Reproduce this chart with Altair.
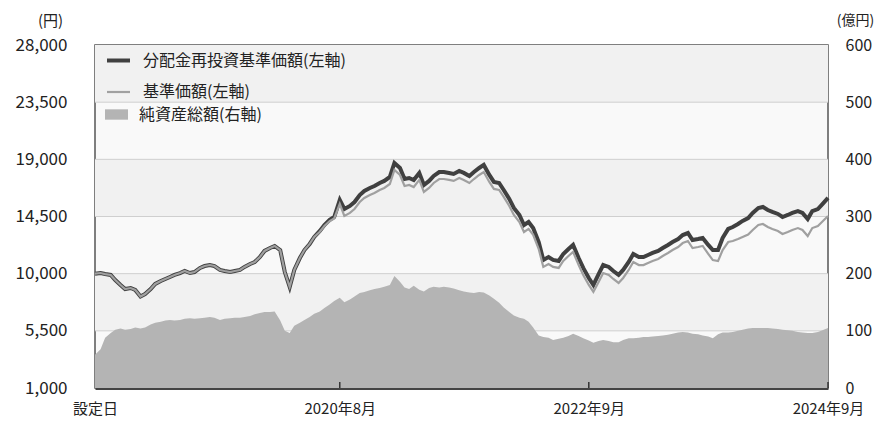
import altair as alt
import pandas as pd

# ---- data ----
dates = pd.date_range("2018-07-15", "2024-09-01", freq="SMS")

reinvested = [
    10000, 10050, 9970, 9900, 9500, 9110, 8790, 8870, 8720, 8200,
    8400, 8790, 9190, 9420, 9580, 9740, 9900, 10050, 10210, 10050,
    10130, 10450, 10600, 10680, 10600, 10290, 10210, 10130, 10210, 10290,
    10530, 10760, 10920, 11310, 11790, 12020, 12180, 11860, 10130, 8950,
    10290, 11230, 11860, 12340, 12890, 13360, 13830, 14230, 14460, 15800,
    15090, 15330, 15640, 16190, 16510, 16740, 16900, 17140, 17300, 17610,
    18710, 18320, 17450, 17530, 17370, 17930, 16980, 17300, 17690, 18000,
    18000, 17930, 17850, 18080, 17930, 17690, 18000, 18320, 18560, 17770,
    17220, 17140, 16590, 15880, 15170, 14620, 13830, 14070, 13600, 12490,
    11080, 11310, 11080, 11000, 11550, 11940, 12260, 11230, 10450, 9660,
    9110, 9970, 10680, 10530, 10210, 9900, 10290, 10920, 11550, 11310,
    11310, 11470, 11630, 11790, 12020, 12260, 12490, 12730, 13040, 13200,
    12650, 12730, 12810, 12260, 11860, 11860, 12810, 13520, 13670, 13910,
    14150, 14380, 14780, 15170, 15250, 15010, 14860, 14700, 14460, 14620,
    14780, 14930, 14780, 14300, 14930, 15090, 15480, 15960,
]

nav = [
    10000, 10050, 9970, 9900, 9500, 9110, 8790, 8870, 8720, 8200,
    8400, 8790, 9190, 9420, 9580, 9740, 9900, 10050, 10210, 10050,
    10130, 10450, 10600, 10680, 10600, 10290, 10210, 10130, 10210, 10290,
    10530, 10760, 10920, 11310, 11790, 12020, 12180, 11860, 10130, 8950,
    10290, 11230, 11860, 12340, 12890, 13300, 13750, 14130, 14350, 15500,
    14540, 14780, 15090, 15640, 15960, 16190, 16350, 16590, 16750, 17060,
    18160, 17770, 16900, 16980, 16820, 17380, 16430, 16750, 17140, 17450,
    17450, 17380, 17300, 17530, 17380, 17140, 17450, 17770, 18000, 17220,
    16670, 16590, 16040, 15330, 14620, 14070, 13280, 13520, 13050, 11940,
    10530, 10760, 10530, 10450, 11000, 11390, 11710, 10680, 9900, 9110,
    8560, 9340, 10050, 9900, 9580, 9270, 9660, 10290, 10920, 10680,
    10680, 10840, 11000, 11160, 11390, 11630, 11860, 12100, 12410, 12570,
    12020, 12100, 12180, 11560, 11070, 10990, 11860, 12490, 12570, 12730,
    12890, 13080, 13440, 13830, 13910, 13670, 13520, 13360, 13120, 13280,
    13440, 13590, 13440, 12960, 13590, 13750, 14100, 14540,
]

net_assets = [
    58, 68, 88, 96, 102, 104, 102, 103, 106, 104,
    106, 111, 114, 116, 118, 119, 118, 119, 121, 122,
    121, 122, 123, 124, 123, 119, 121, 122, 123, 123,
    124, 126, 129, 131, 133, 133, 134, 118, 100, 96,
    109, 114, 119, 124, 130, 134, 140, 146, 152, 158,
    150, 155, 160, 166, 168, 171, 173, 175, 177, 180,
    196, 186, 176, 173, 179, 172, 169, 175, 177, 176,
    177, 176, 174, 171, 169, 167, 166, 168, 167, 162,
    156, 149, 141, 133, 127, 123, 121, 116, 106, 92,
    89, 88, 84, 86, 88, 91, 95, 91, 87, 83,
    79, 82, 84, 82, 80, 80, 84, 87, 87, 88,
    89, 89, 90, 91, 92, 93, 95, 97, 98, 97,
    95, 94, 92, 90, 87, 94, 97, 97, 98, 100,
    102, 104, 105, 105, 105, 105, 104, 103, 102, 101,
    100, 98, 97, 96, 96, 98, 101, 105,
]

n = min(len(dates), len(reinvested), len(nav), len(net_assets))
date_str = list(dates.strftime("%Y-%m-%d"))[:n]

S1 = "分配金再投資基準価額(左軸)"
S2 = "基準価額(左軸)"
S3 = "純資産総額(右軸)"

left_ticks = [1000, 5500, 10000, 14500, 19000, 23500, 28000]
right_ticks = [0, 100, 200, 300, 400, 500, 600]
band_lo = [5500, 14500, 23500]
band_hi = [10000, 19000, 28000]
grid_vals = [5500, 10000, 14500, 19000, 23500]
tick_dates = ["2020-08-01", "2022-09-01", "2024-09-01"]

line_df = pd.DataFrame({
    "date": date_str * 2,
    "value": reinvested[:n] + nav[:n],
    "series": [S1] * n + [S2] * n,
})
area_df = pd.DataFrame({"date": date_str, "assets": net_assets[:n], "series": [S3] * n})
band_df = pd.DataFrame({"lo": band_lo, "hi": band_hi})
grid_df = pd.DataFrame({"v": grid_vals})
tick_df = pd.DataFrame({"date": tick_dates})

W, H = 733, 343
FONT = "Noto Sans CJK JP"

xscale = alt.Scale(type="utc", domain=[
    alt.DateTime(year=2018, month=7, date=15, utc=True),
    alt.DateTime(year=2024, month=9, date=1, utc=True),
])
xaxis = alt.Axis(
    values=[
        alt.DateTime(year=2018, month=7, date=15, utc=True),
        alt.DateTime(year=2020, month=8, date=1, utc=True),
        alt.DateTime(year=2022, month=9, date=1, utc=True),
        alt.DateTime(year=2024, month=9, date=1, utc=True),
    ],
    labelExpr="utcyear(datum.value) < 2019 ? '設定日' : utcyear(datum.value) + '年' + (utcmonth(datum.value) + 1) + '月'",
    title=None, ticks=False, grid=False, labelFontSize=15, labelPadding=13,
    labelColor="#222", domainColor="#444", domainWidth=3, labelFlush=False,
    labelOverlap=False,
)

lscale = alt.Scale(domain=[1000, 28000], nice=False, zero=False)
rscale = alt.Scale(domain=[0, 600], nice=False)

color_scale = alt.Scale(domain=[S1, S2], range=["#404040", "#a0a0a0"])
width_scale = alt.Scale(type="ordinal", domain=[S1, S2], range=[4, 2.2])
fill_scale = alt.Scale(domain=[S3], range=["#b4b4b4"])

line_legend = alt.Legend(
    orient="none", legendX=2, legendY=-6, title=None,
    symbolType="stroke", symbolSize=529,
    labelFontSize=16, labelColor="#222", labelOffset=11, rowPadding=10,
    padding=8, labelLimit=400, labelFont=FONT, symbolOpacity=1,
)
area_legend = alt.Legend(
    orient="none", legendX=2, legendY=50, title=None,
    symbolType="M-1,-0.45L1,-0.45L1,0.45L-1,0.45Z", symbolSize=529,
    symbolStrokeWidth=0,
    labelFontSize=16, labelColor="#222", labelOffset=11,
    padding=8, labelLimit=400, labelFont=FONT, symbolOpacity=1,
)

bands = alt.Chart(band_df).mark_rect(color="#f1f1f1").encode(
    x=alt.value(0), x2=alt.value(W),
    y=alt.Y("lo:Q", scale=lscale, axis=alt.Axis(
        orient="left", values=left_ticks, labelExpr="format(datum.value, ',')",
        ticks=False, grid=False,
        domain=False, labelFontSize=17, labelPadding=28, labelColor="#222",
        title="(円)", titleAngle=0, titleX=-45, titleY=-25, titleAlign="center",
        titleBaseline="middle", titleFontSize=15, titleFontWeight="normal", titleColor="#222",
    )),
    y2="hi:Q",
)

grid = alt.Chart(grid_df).mark_rule(color="#cfcfcf", strokeWidth=1).encode(
    y=alt.Y("v:Q", scale=lscale, axis=None),
)

lines = alt.Chart(line_df).mark_line(interpolate="linear").encode(
    x=alt.X("date:T", scale=xscale, axis=xaxis),
    y=alt.Y("value:Q", scale=lscale, axis=None),
    color=alt.Color("series:N", scale=color_scale, legend=line_legend),
    strokeWidth=alt.StrokeWidth("series:N", scale=width_scale, legend=line_legend),
    order=alt.Order("series:N", sort="descending"),
)

area = alt.Chart(area_df).mark_area(opacity=1, interpolate="linear").encode(
    x=alt.X("date:T", scale=xscale, axis=xaxis),
    y=alt.Y("assets:Q", scale=rscale, axis=alt.Axis(
        orient="right", values=right_ticks, ticks=False, grid=False, domain=False,
        labelFontSize=16, labelPadding=17, labelAlign="left", labelColor="#222",
        title="(億円)", titleAngle=0, titleX=27, titleY=-25, titleAlign="center",
        titleBaseline="middle", titleFontSize=14, titleFontWeight="normal", titleColor="#222",
    )),
    fill=alt.Fill("series:N", scale=fill_scale, legend=area_legend),
)

ticks = alt.Chart(tick_df).mark_rule(color="#333", strokeWidth=1.5).encode(
    x=alt.X("date:T", scale=xscale, axis=xaxis),
    y=alt.value(H - 6), y2=alt.value(H),
)

chart = alt.layer(bands, grid, lines, area, ticks).resolve_scale(
    y="independent"
).properties(
    width=W, height=H, autosize="none",
    padding={"left": 87, "top": 37, "right": 48, "bottom": 34},
).configure(
    font=FONT,
).configure_view(
    fill="#f9f9f9", stroke="#555", strokeWidth=1.5,
)

chart.save("out.html", embed_options={"renderer": "svg", "actions": False})
